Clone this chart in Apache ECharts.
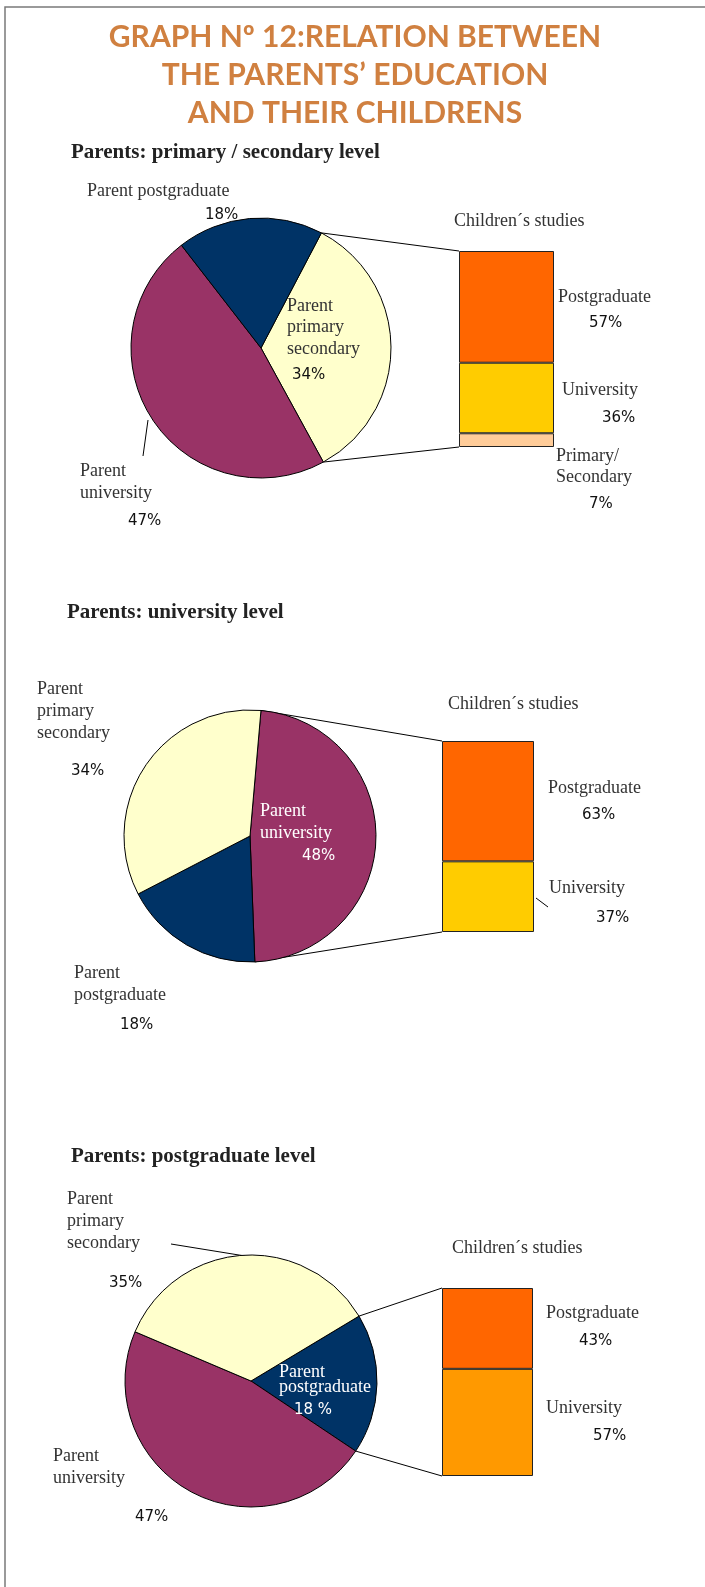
<!DOCTYPE html>
<html>
<head>
<meta charset="utf-8">
<script src="https://cdn.jsdelivr.net/npm/echarts@6/dist/echarts.min.js"></script>
<style>
  html, body { margin: 0; padding: 0; background: #fff; }
  #main { width: 705px; height: 1587px; }
</style>
</head>
<body>
<div id="main"></div>
<script>
// parent pies, listed clockwise starting with the slice that is broken out
const pie1Names = ['Parent primary secondary', 'Parent university', 'Parent postgraduate']
const pie1Values = [34, 47, 18]
const pie2Names = ['Parent university', 'Parent postgraduate', 'Parent primary secondary']
const pie2Values = [48, 18, 34]
const pie3Names = ['Parent postgraduate', 'Parent university', 'Parent primary secondary']
const pie3Values = [18, 47, 35]

// children's studies, top segment first
const bar1Names = ['Postgraduate', 'University', 'Primary/ Secondary']
const bar1Values = [57, 36, 7]
const bar2Names = ['Postgraduate', 'University']
const bar2Values = [63, 37]
const bar3Names = ['Postgraduate', 'University']
const bar3Values = [43, 57]

const titleLines = ['GRAPH Nº 12:RELATION BETWEEN', 'THE PARENTS’ EDUCATION', 'AND THEIR CHILDRENS']
const subTitles = ['Parents: primary / secondary level', 'Parents: university level', 'Parents: postgraduate level']
const barTitle = 'Children´s studies'

const parentColors = {
  'Parent primary secondary': '#FFFFCC',
  'Parent university': '#993366',
  'Parent postgraduate': '#003366',
}

const serif = '"Liberation Serif", "Times New Roman", serif'
const sans = '"DejaVu Sans", Verdana, sans-serif'

const blocks = [
  {
    names: pie1Names, values: pie1Values, center: [261, 348], r: 130, start: 62.3,
    barNames: bar1Names, barValues: bar1Values, barColors: ['#FF6600', '#FFCC00', '#FFCC99'],
    rect: { left: 459, top: 251, width: 95, height: 196 },
  },
  {
    names: pie2Names, values: pie2Values, center: [250, 836], r: 126, start: 85,
    barNames: bar2Names, barValues: bar2Values, barColors: ['#FF6600', '#FFCC00'],
    rect: { left: 442, top: 741, width: 92, height: 191 },
  },
  {
    names: pie3Names, values: pie3Values, center: [251, 1381], r: 126, start: 31,
    barNames: bar3Names, barValues: bar3Values, barColors: ['#FF6600', '#FF9900'],
    rect: { left: 442, top: 1288, width: 91, height: 188 },
  },
]

const wrap = s => s.replace(/ /g, '\n')
const pct = (v, gap = '') => v + gap + '%'

// y is the centre of the first line
function label(x, y, text, o = {}) {
  const lh = o.lh || 22
  return {
    type: 'text', x, y: y - lh / 2, z: 100, silent: true,
    style: {
      text,
      fontFamily: o.sans ? sans : serif,
      fontSize: o.size || (o.sans ? 15 : 18),
      fontWeight: o.bold ? 'bold' : 'normal',
      lineHeight: lh,
      fill: o.fill || (o.sans ? '#111' : '#333'),
      verticalAlign: 'top',
      align: o.align || 'left',
    },
  }
}

const chart = echarts.init(document.getElementById('main'))

const series = []
const grid = []
const xAxis = []
const yAxis = []

blocks.forEach((b, i) => {
  series.push({
    type: 'pie',
    center: b.center,
    radius: b.r,
    startAngle: b.start,
    clockwise: true,
    silent: true,
    animation: false,
    label: { show: false },
    labelLine: { show: false },
    itemStyle: { borderColor: '#000', borderWidth: 1 },
    data: b.names.map((n, k) => ({ name: n, value: b.values[k], itemStyle: { color: parentColors[n] } })),
  })
  grid.push(Object.assign({ containLabel: false }, b.rect))
  xAxis.push({ type: 'category', gridIndex: i, data: [''], show: false })
  yAxis.push({ type: 'value', gridIndex: i, min: 0, max: 100, show: false })
  // stack from the bottom segment upward
  for (let k = b.barValues.length - 1; k >= 0; k--) {
    series.push({
      type: 'bar',
      name: b.barNames[k],
      xAxisIndex: i,
      yAxisIndex: i,
      stack: 'children' + i,
      barWidth: '100%',
      silent: true,
      animation: false,
      itemStyle: { color: b.barColors[k], borderColor: '#222', borderWidth: 1 },
      data: [b.barValues[k]],
    })
  }
})

chart.setOption({
  backgroundColor: '#fff',
  animation: false,
  grid, xAxis, yAxis, series,
})

// point on a pie rim after a given fraction of the total, going clockwise
function rimPoint(b, frac) {
  const a = (b.start - 360 * frac) * Math.PI / 180
  return [b.center[0] + b.r * Math.cos(a), b.center[1] - b.r * Math.sin(a)]
}

const graphic = []

// page frame
graphic.push({
  type: 'rect', silent: true,
  shape: { x: 5, y: 7, width: 720, height: 1600 },
  style: { fill: 'none', stroke: '#7a7a7a', lineWidth: 1.5 },
})

// title
const titleY = [37, 75, 113]
titleLines.forEach((t, i) => {
  graphic.push({
    type: 'text', x: 355, y: titleY[i], z: 100, silent: true,
    style: {
      text: t, fontFamily: 'Lato, "Open Sans", sans-serif', fontSize: 30, fontWeight: 'bold',
      fill: '#D08040', align: 'center', verticalAlign: 'middle',
    },
  })
})

// connectors from the broken-out slice to its bar
blocks.forEach((b, i) => {
  const sum = b.values.reduce((s, v) => s + v, 0)
  const p0 = rimPoint(b, 0)
  const p1 = rimPoint(b, b.values[0] / sum)
  const yTop = chart.convertToPixel({ yAxisIndex: i }, 100)
  const yBot = chart.convertToPixel({ yAxisIndex: i }, 0)
  const x = b.rect.left
  graphic.push({ type: 'line', silent: true, shape: { x1: p0[0], y1: p0[1], x2: x, y2: yTop }, style: { stroke: '#000', lineWidth: 1 } })
  graphic.push({ type: 'line', silent: true, shape: { x1: p1[0], y1: p1[1], x2: x, y2: yBot }, style: { stroke: '#000', lineWidth: 1 } })
})

// small leader lines
const leaders = [[148, 420, 143, 456], [536, 898, 548, 907], [171, 1244, 245, 1256]]
leaders.forEach(l => {
  graphic.push({ type: 'line', silent: true, shape: { x1: l[0], y1: l[1], x2: l[2], y2: l[3] }, style: { stroke: '#000', lineWidth: 1 } })
})

// section headings
const subPos = [[71, 153], [67, 613], [71, 1157]]
subTitles.forEach((t, i) => {
  graphic.push(label(subPos[i][0], subPos[i][1], t, { bold: true, size: 21, fill: '#222', lh: 24 }))
})

// block 1
graphic.push(
  label(87, 191, pie1Names[2]),
  label(205, 215, pct(pie1Values[2]), { sans: true }),
  label(287, 306, wrap(pie1Names[0]), { lh: 21.5 }),
  label(292, 375, pct(pie1Values[0]), { sans: true }),
  label(80, 471, wrap(pie1Names[1])),
  label(128, 521, pct(pie1Values[1]), { sans: true }),
  label(454, 221, barTitle),
  label(558, 297, bar1Names[0]),
  label(589, 323, pct(bar1Values[0]), { sans: true }),
  label(562, 390, bar1Names[1]),
  label(602, 418, pct(bar1Values[1]), { sans: true }),
  label(556, 456, wrap(bar1Names[2]), { lh: 21 }),
  label(589, 504, pct(bar1Values[2]), { sans: true }),
)

// block 2
graphic.push(
  label(37, 689, wrap(pie2Names[2])),
  label(71, 771, pct(pie2Values[2]), { sans: true }),
  label(260, 811, wrap(pie2Names[0]), { fill: '#fff' }),
  label(302, 856, pct(pie2Values[0]), { sans: true, fill: '#fff' }),
  label(74, 973, wrap(pie2Names[1])),
  label(120, 1025, pct(pie2Values[1]), { sans: true }),
  label(448, 704, barTitle),
  label(548, 788, bar2Names[0]),
  label(582, 815, pct(bar2Values[0]), { sans: true }),
  label(549, 888, bar2Names[1]),
  label(596, 918, pct(bar2Values[1]), { sans: true }),
)

// block 3
graphic.push(
  label(67, 1199, wrap(pie3Names[2])),
  label(109, 1283, pct(pie3Values[2]), { sans: true }),
  label(279, 1372, wrap(pie3Names[0]), { fill: '#fff', lh: 15 }),
  label(294, 1410, pct(pie3Values[0], ' '), { sans: true, fill: '#fff' }),
  label(53, 1456, wrap(pie3Names[1])),
  label(135, 1517, pct(pie3Values[1]), { sans: true }),
  label(452, 1248, barTitle),
  label(546, 1313, bar3Names[0]),
  label(579, 1341, pct(bar3Values[0]), { sans: true }),
  label(546, 1408, bar3Names[1]),
  label(593, 1436, pct(bar3Values[1]), { sans: true }),
)

chart.setOption({ graphic })
</script>
</body>
</html>
